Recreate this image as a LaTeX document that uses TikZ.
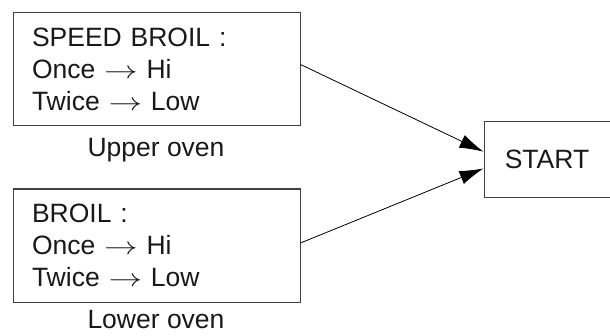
\documentclass[tikz,border=0pt]{standalone}
\usepackage{fontspec}
\setmainfont{Liberation Sans}
\usetikzlibrary{arrows.meta}

\newcommand{\toarrow}{\scalebox{1.35}[1]{$\rightarrow$}}

\tikzset{
  ovenbox/.style={draw=black!75, line width=1pt, align=left, text width=249pt,
    inner xsep=19pt, inner ysep=0pt, minimum width=287pt, minimum height=113pt},
  startbox/.style={draw=black!75, line width=1pt, minimum width=126pt,
    minimum height=75pt},
  feed/.style={line width=0.8pt, -{Latex[length=24pt,width=14pt]}},
}

\begin{document}
\begin{tikzpicture}[x=1pt, y=1pt, font=\fontsize{26.5}{32}\selectfont, text=black!90]
    \useasboundingbox (0,0) rectangle (610,335);

    \node[ovenbox] (upper) at (156.5, 265.5) {SPEED BROIL :\\ Once \toarrow{} Hi\\ Twice \toarrow{} Low};
    \node[ovenbox] (lower) at (156.5, 89.5) {BROIL :\\ Once \toarrow{} Hi\\ Twice \toarrow{} Low};
    \node[startbox] (start) at (547, 175.5) {START};

    \node[anchor=base] (upperlbl) at (156, 178) {Upper oven};
    \node[anchor=base] (lowerlbl) at (156, 6.5) {Lower oven};

    \draw[feed] (upper.2) -- (start.173);
    \draw[feed] (lower.1) -- (start.188);
  \end{tikzpicture}
\end{document}
